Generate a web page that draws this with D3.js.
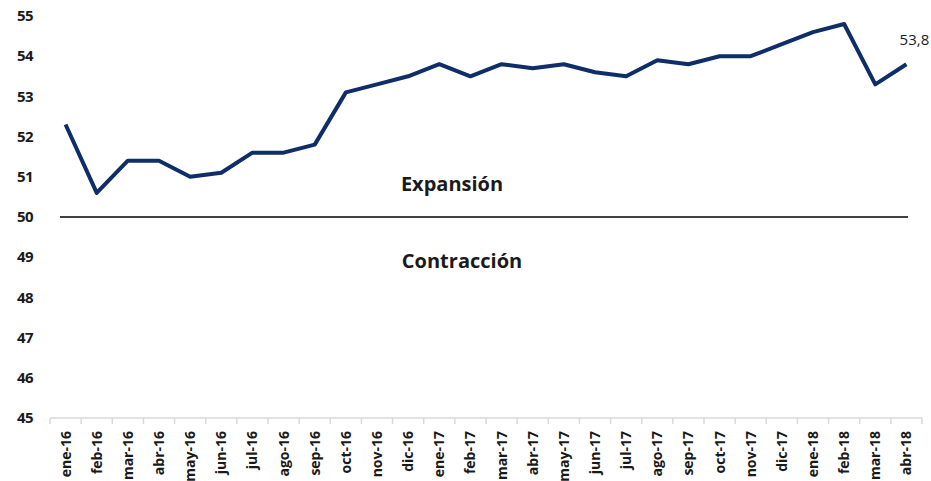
<!DOCTYPE html>
<html>
<head>
<meta charset="utf-8">
<script src="https://cdn.jsdelivr.net/npm/d3@7"></script>
<style>
  body { margin: 0; background: #fff; }
  text { font-family: "Open Sans", sans-serif; }
</style>
</head>
<body>
<svg id="chart" width="931" height="481"></svg>
<script>
// categorias (meses) y valores del indice
var months = ["ene-16", "feb-16", "mar-16", "abr-16", "may-16", "jun-16", "jul-16", "ago-16", "sep-16", "oct-16", "nov-16", "dic-16",
  "ene-17", "feb-17", "mar-17", "abr-17", "may-17", "jun-17", "jul-17", "ago-17", "sep-17", "oct-17", "nov-17", "dic-17",
  "ene-18", "feb-18", "mar-18", "abr-18"];
var values = [52.3, 50.6, 51.4, 51.4, 51.0, 51.1, 51.6, 51.6, 51.8, 53.1, 53.3, 53.5,
  53.8, 53.5, 53.8, 53.7, 53.8, 53.6, 53.5, 53.9, 53.8, 54.0, 54.0, 54.3,
  54.6, 54.8, 53.3, 53.8];
var yTicks = [45, 46, 47, 48, 49, 50, 51, 52, 53, 54, 55];
var threshold = 50;
var zoneLabels = ["Expansión", "Contracción"];

var svg = d3.select("#chart");

var x = d3.scaleBand()
  .domain(months)
  .range([50, 922]);

var y = d3.scaleLinear()
  .domain([45, 55])
  .range([418, 16]);

var cx = (d) => x(d) + x.bandwidth() / 2;

// eje y: solo etiquetas
svg.append("g")
  .selectAll("text")
  .data(yTicks)
  .join("text")
  .attr("x", 25)
  .attr("y", (d) => y(d))
  .attr("dy", "0.35em")
  .attr("text-anchor", "middle")
  .attr("font-size", 15)
  .attr("font-weight", "bold")
  .attr("letter-spacing", -0.5)
  .attr("fill", "#1a1a1a")
  .text((d) => d);

// eje x
var xAxis = svg.append("g")
  .attr("transform", "translate(0," + y(45) + ")");

xAxis.append("line")
  .attr("x1", 50)
  .attr("x2", 922)
  .attr("stroke", "#d9d9d9")
  .attr("stroke-width", 1.5);

xAxis.selectAll(".tk")
  .data(months.concat(["end"]))
  .join("line")
  .attr("class", "tk")
  .attr("x1", (d, i) => 50 + i * x.step())
  .attr("x2", (d, i) => 50 + i * x.step())
  .attr("y1", 0)
  .attr("y2", 6)
  .attr("stroke", "#d9d9d9")
  .attr("stroke-width", 1.5);

xAxis.selectAll("text")
  .data(months)
  .join("text")
  .attr("transform", (d) => "translate(" + (cx(d) + 5) + ",13) rotate(-90)")
  .attr("text-anchor", "end")
  .attr("font-size", 14)
  .attr("font-weight", "bold")
  .attr("fill", "#1a1a1a")
  .text((d) => d);

// linea de 50
svg.append("line")
  .attr("x1", 60)
  .attr("x2", 908)
  .attr("y1", y(threshold))
  .attr("y2", y(threshold))
  .attr("stroke", "#000")
  .attr("stroke-width", 1.5);

// zonas
svg.selectAll(".zone")
  .data(zoneLabels)
  .join("text")
  .attr("class", "zone")
  .attr("x", (d, i) => i === 0 ? 452 : 462)
  .attr("y", (d, i) => i === 0 ? y(threshold) - 26 : y(threshold) + 51)
  .attr("text-anchor", "middle")
  .attr("font-size", 20)
  .attr("font-weight", "bold")
  .attr("fill", "#1a1a1a")
  .text((d) => d);

// serie
var line = d3.line()
  .x((d, i) => cx(months[i]))
  .y((d) => y(d));

svg.append("path")
  .datum(values)
  .attr("d", line)
  .attr("fill", "none")
  .attr("stroke", "#0f2d69")
  .attr("stroke-width", 4)
  .attr("stroke-linejoin", "round");

// etiqueta ultimo valor
var last = values.length - 1;
svg.append("text")
  .attr("x", cx(months[last]) + 8)
  .attr("y", y(values[last]) - 19)
  .attr("text-anchor", "middle")
  .attr("font-size", 15)
  .attr("fill", "#1a1a1a")
  .text(String(values[last]).replace(".", ","));
</script>
</body>
</html>
